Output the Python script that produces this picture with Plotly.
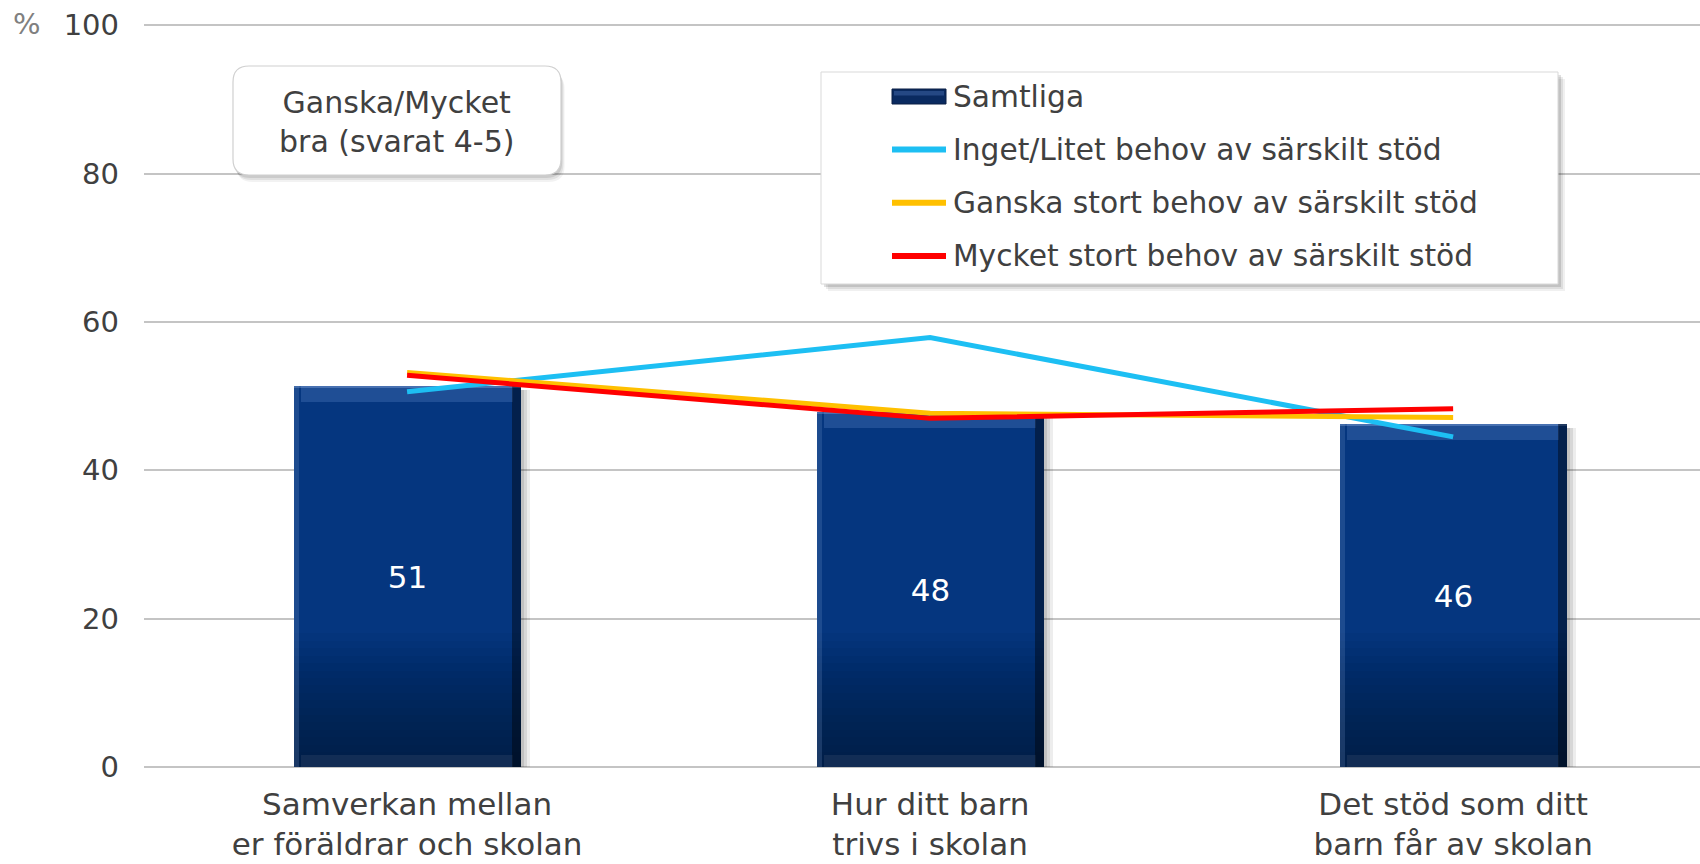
import plotly.graph_objects as go

# ---------------- data ----------------
categories = ["Samverkan mellan<br>er föräldrar och skolan",
              "Hur ditt barn<br>trivs i skolan",
              "Det stöd som ditt<br>barn får av skolan"]
samtliga = [51.4, 47.9, 46.3]
inget_litet = [50.6, 57.9, 44.5]
ganska_stort = [53.2, 47.7, 47.1]
mycket_stort = [52.8, 47.0, 48.3]
series_names = ["Samtliga",
                "Inget/Litet behov av särskilt stöd",
                "Ganska stort behov av särskilt stöd",
                "Mycket stort behov av särskilt stöd"]
y_ticks = [0, 20, 40, 60, 80, 100]
box_text = "Ganska/Mycket<br>bra (svarat 4-5)"

# ---------------- styling ----------------
W, H = 1700, 864
YMAX = 100.3
ML, MR, MT, MB = 144, 0, 23, 97
PW, PH = W - ML - MR, H - MT - MB
FONT = "DejaVu Sans"
TXT = "#404040"
BAR = "#05367f"
LINE_COLORS = ["#1dbff3", "#ffc000", "#ff0000"]
BW = 0.434
x = list(range(len(categories)))


def px(xp):
    return (xp - ML) / PW


def py(yp):
    return (H - MB - yp) / PH


fig = go.Figure()

# soft drop shadow of bars
for off, a in [(0.018, 0.07), (0.012, 0.09), (0.006, 0.10)]:
    fig.add_trace(go.Bar(x=x, y=[v - 0.2 for v in samtliga], base=[-0.4] * 3,
                         width=BW, offset=-BW / 2 + off,
                         marker=dict(color=f"rgba(0,0,0,{a})", line_width=0),
                         showlegend=False, hoverinfo="skip"))
# main bars
fig.add_trace(go.Bar(x=x, y=samtliga, width=BW, name=series_names[0],
                     marker=dict(color=BAR, line=dict(width=0)),
                     text=[f"{v:.0f}" for v in samtliga],
                     textposition="inside", insidetextanchor="middle",
                     textfont=dict(color="white", size=31, family=FONT),
                     showlegend=False))
# bottom gradient (darkening towards the base)
steps = 18
for k in range(1, steps + 1):
    fig.add_trace(go.Bar(x=x, y=[min(v, k) for v in samtliga], width=BW,
                         marker=dict(color="rgba(8,16,32,0.046)", line_width=0),
                         showlegend=False, hoverinfo="skip"))
# top bevel
fig.add_trace(go.Bar(x=x, y=[2.2] * 3, base=[v - 2.2 for v in samtliga], width=BW - 0.03,
                     marker=dict(color="rgba(110,150,215,0.25)", line_width=0),
                     showlegend=False, hoverinfo="skip"))
fig.add_trace(go.Bar(x=x, y=[0.35] * 3, base=[v - 0.35 for v in samtliga], width=BW,
                     marker=dict(color="rgba(150,180,230,0.35)", line_width=0),
                     showlegend=False, hoverinfo="skip"))
# bottom bevel
fig.add_trace(go.Bar(x=x, y=[1.6] * 3, width=BW - 0.03,
                     marker=dict(color="rgba(60,80,110,0.30)", line_width=0),
                     showlegend=False, hoverinfo="skip"))
# right dark edge
fig.add_trace(go.Bar(x=x, y=samtliga, width=0.016, offset=BW / 2 - 0.016,
                     marker=dict(color="rgba(0,0,0,0.40)", line_width=0),
                     showlegend=False, hoverinfo="skip"))
# left light edge
fig.add_trace(go.Bar(x=x, y=samtliga, width=0.01, offset=-BW / 2,
                     marker=dict(color="rgba(120,150,200,0.22)", line_width=0),
                     showlegend=False, hoverinfo="skip"))

# lines
for vals, name, col in zip([inget_litet, ganska_stort, mycket_stort], series_names[1:], LINE_COLORS):
    fig.add_trace(go.Scatter(x=x, y=vals, mode="lines", name=name,
                             line=dict(color=col, width=5), showlegend=False))

shapes = []
annotations = []


# ---- label box (rounded) ----
def rounded(x0, y0, x1, y1, r):
    X0, X1 = px(x0), px(x1)
    Y0, Y1 = py(y0), py(y1)
    rx, ry = r / PW, r / PH
    return (f"M {X0 + rx},{Y0} L {X1 - rx},{Y0} Q {X1},{Y0} {X1},{Y0 - ry} "
            f"L {X1},{Y1 + ry} Q {X1},{Y1} {X1 - rx},{Y1} "
            f"L {X0 + rx},{Y1} Q {X0},{Y1} {X0},{Y1 + ry} "
            f"L {X0},{Y0 - ry} Q {X0},{Y0} {X0 + rx},{Y0} Z")


for i, a in enumerate([0.05, 0.07, 0.09]):
    d = 6 - i * 2
    shapes.append(dict(type="path", xref="paper", yref="paper", layer="above",
                       path=rounded(233 + d * 0.6, 66 + d + 1, 561 + d * 0.6, 175 + d + 1, 16),
                       fillcolor=f"rgba(0,0,0,{a})", line=dict(width=0)))
shapes.append(dict(type="path", xref="paper", yref="paper", layer="above",
                   path=rounded(233, 66, 561, 175, 16),
                   fillcolor="white", line=dict(color="#d0d0d0", width=1.2)))
annotations.append(dict(xref="paper", yref="paper", x=px(397), y=py(122),
                        text=box_text, showarrow=False, align="center",
                        xanchor="center", yanchor="middle",
                        font=dict(family=FONT, size=30, color=TXT)))

# ---- legend ----
LX0, LX1, LY0, LY1 = 821, 1558, 72, 284
for i, a in enumerate([0.06, 0.08, 0.12]):
    d = 7 - i * 2
    shapes.append(dict(type="rect", xref="paper", yref="paper", layer="above",
                       x0=px(LX0 + d), x1=px(LX1 + d), y0=py(LY0 + d), y1=py(LY1 + d),
                       fillcolor=f"rgba(0,0,0,{a})", line=dict(width=0)))
shapes.append(dict(type="rect", xref="paper", yref="paper", layer="above",
                   x0=px(LX0), x1=px(LX1), y0=py(LY0), y1=py(LY1),
                   fillcolor="white", line=dict(color="#d9d9d9", width=1)))
item_y = [96.5, 149.6, 202.7, 255.9]
SX0, SX1, TX = 892, 946, 951
# bar symbol
shapes.append(dict(type="rect", xref="paper", yref="paper", layer="above",
                   x0=px(SX0), x1=px(SX1), y0=py(item_y[0] - 7.5), y1=py(item_y[0] + 7.5),
                   fillcolor="#0a2a60", line=dict(color="#0b1f45", width=1)))
shapes.append(dict(type="rect", xref="paper", yref="paper", layer="above",
                   x0=px(SX0 + 2), x1=px(SX1 - 2), y0=py(item_y[0] - 5.5), y1=py(item_y[0] - 1),
                   fillcolor="rgba(90,130,200,0.35)", line=dict(width=0)))
for yy, col in zip(item_y[1:], LINE_COLORS):
    shapes.append(dict(type="line", xref="paper", yref="paper", layer="above",
                       x0=px(SX0), x1=px(SX1), y0=py(yy), y1=py(yy),
                       line=dict(color=col, width=6)))
for yy, name in zip(item_y, series_names):
    annotations.append(dict(xref="paper", yref="paper", x=px(TX), y=py(yy),
                            text=name, showarrow=False, xanchor="left", yanchor="middle",
                            font=dict(family=FONT, size=29.7, color=TXT)))

# % sign
annotations.append(dict(xref="paper", yref="paper", x=px(27), y=py(24),
                        text="%", showarrow=False, xanchor="center", yanchor="middle",
                        font=dict(family=FONT, size=29, color="#808080")))

fig.update_layout(
    width=W, height=H,
    margin=dict(l=ML, r=MR, t=MT, b=MB, pad=0, autoexpand=False),
    paper_bgcolor="white", plot_bgcolor="white",
    barmode="overlay", bargap=0,
    showlegend=False,
    font=dict(family=FONT, size=29, color=TXT),
    shapes=shapes, annotations=annotations,
    xaxis=dict(tickmode="array", tickvals=x, ticktext=categories,
               range=[-0.503, 2.472], showgrid=False, zeroline=False,
               showline=False, ticks="", ticklabelstandoff=16, automargin=False,
               tickfont=dict(family=FONT, size=31, color=TXT)),
    yaxis=dict(range=[0, YMAX], tickvals=y_ticks, showgrid=True,
               gridcolor="#c4c4c4", gridwidth=2, zeroline=True,
               zerolinecolor="#c4c4c4", zerolinewidth=2, showline=False,
               ticks="", ticklabelstandoff=24, automargin=False,
               tickfont=dict(family=FONT, size=29, color=TXT)),
)

fig.write_html("out.html", config={"displayModeBar": False},
               post_script="document.body.style.margin='0px';")
